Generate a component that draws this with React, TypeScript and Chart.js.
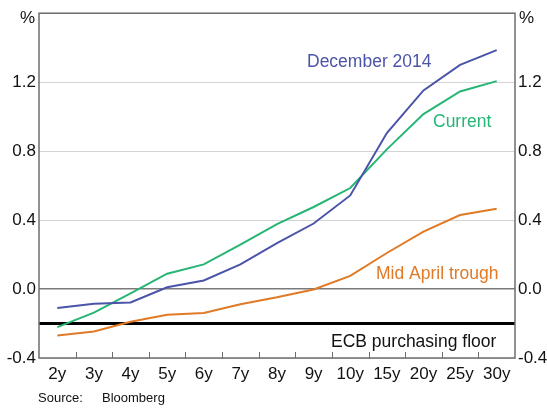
import React, { useEffect, useRef } from "react";
import { Chart, registerables } from "chart.js";

Chart.register(...registerables);

const categories = ["2y", "3y", "4y", "5y", "6y", "7y", "8y", "9y", "10y", "15y", "20y", "25y", "30y"];
const december2014 = [-0.11, -0.086, -0.078, 0.01, 0.05, 0.143, 0.266, 0.38, 0.543, 0.905, 1.152, 1.3, 1.386];
const current = [-0.221, -0.137, -0.025, 0.089, 0.143, 0.257, 0.377, 0.476, 0.586, 0.81, 1.015, 1.146, 1.206];
const midAprilTrough = [-0.269, -0.246, -0.19, -0.149, -0.139, -0.088, -0.048, -0.003, 0.076, 0.209, 0.333, 0.429, 0.466];
const ecbFloor = -0.2;
const yMin = -0.4;
const yMax = 1.6;
const yStep = 0.4;

const BLUE = "#4b54a8";
const GREEN = "#26b574";
const ORANGE = "#e07a26";
const FONT = "'Liberation Sans', Arial, sans-serif";

const fmt = (v: number) => (v > yMax - 0.01 ? "" : Math.abs(v) < 1e-9 ? "0.0" : v.toFixed(1));

const decorPlugin = {
  id: "decor",
  beforeDatasetsDraw(chart: any) {
    const { ctx, chartArea, scales } = chart;
    const y = scales.y.getPixelForValue(ecbFloor);
    ctx.save();
    ctx.strokeStyle = "#000";
    ctx.lineWidth = 3;
    ctx.beginPath();
    ctx.moveTo(chartArea.left, y);
    ctx.lineTo(chartArea.right, y);
    ctx.stroke();
    ctx.restore();
  },
  afterDraw(chart: any) {
    const { ctx, chartArea, scales } = chart;
    const { left, right, top, bottom } = chartArea;
    ctx.save();
    // frame
    ctx.strokeStyle = "#6e6e6e";
    ctx.lineWidth = 1.5;
    ctx.strokeRect(left, top, right - left, bottom - top);
    // inside x ticks at category boundaries
    ctx.strokeStyle = "#6e6e6e";
    ctx.lineWidth = 1;
    const xs = scales.x;
    for (let i = 1; i < categories.length; i++) {
      const px = Math.round((xs.getPixelForValue(i - 1) + xs.getPixelForValue(i)) / 2) + 0.5;
      ctx.beginPath();
      ctx.moveTo(px, bottom);
      ctx.lineTo(px, bottom - 6);
      ctx.stroke();
    }
    // % units
    ctx.fillStyle = "#111";
    ctx.font = `17px ${FONT}`;
    ctx.textBaseline = "alphabetic";
    ctx.textAlign = "right";
    ctx.fillText("%", left - 4, 23);
    ctx.textAlign = "left";
    ctx.fillText("%", right + 4, 23);
    // series labels
    ctx.font = `17.5px ${FONT}`;
    ctx.fillStyle = BLUE;
    ctx.fillText("December 2014", 307, 67);
    ctx.fillStyle = GREEN;
    ctx.fillText("Current", 433, 127);
    ctx.fillStyle = ORANGE;
    ctx.fillText("Mid April trough", 376, 279);
    ctx.fillStyle = "#111";
    ctx.fillText("ECB purchasing floor", 331, 347);
    // source
    ctx.font = `13px ${FONT}`;
    ctx.fillStyle = "#111";
    ctx.fillText("Source:", 38, 402);
    ctx.fillText("Bloomberg", 102, 402);
    ctx.restore();
  },
};

export default function App() {
  const ref = useRef<HTMLCanvasElement | null>(null);
  useEffect(() => {
    if (!ref.current) return;
    const ds = (label: string, data: number[], color: string) => ({
      label,
      data,
      borderColor: color,
      backgroundColor: color,
      borderWidth: 2,
      pointRadius: 0,
      tension: 0,
      fill: false,
    });
    const chart = new Chart(ref.current, {
      type: "line",
      data: {
        labels: categories,
        datasets: [
          ds("December 2014", december2014, BLUE),
          ds("Current", current, GREEN),
          ds("Mid April trough", midAprilTrough, ORANGE),
        ],
      },
      options: {
        animation: false,
        responsive: false,
        devicePixelRatio: 1,
        layout: { padding: { top: 8, left: 0, right: 0, bottom: 0 } },
        plugins: { legend: { display: false }, tooltip: { enabled: false } },
        scales: {
          x: {
            type: "category",
            offset: true,
            grid: { display: false, offset: true },
            border: { display: false },
            ticks: { color: "#111", font: { size: 17, family: FONT }, padding: -2, maxRotation: 0, autoSkip: false },
            afterFit: (s: any) => { s.height = 50; },
          },
          y: {
            position: "left",
            min: yMin,
            max: yMax,
            border: { display: false },
            grid: {
              drawTicks: false,
              color: (c: any) => (Math.abs(c.tick.value) < 1e-9 ? "#7a7a7a" : "#d4d4d4"),
              lineWidth: (c: any) => (Math.abs(c.tick.value) < 1e-9 ? 1.5 : 1),
            },
            ticks: { stepSize: yStep, color: "#111", font: { size: 17, family: FONT }, padding: 3, callback: (v: any) => fmt(Number(v)) },
            afterFit: (s: any) => { s.width = 39; },
          },
          y1: {
            position: "right",
            min: yMin,
            max: yMax,
            border: { display: false },
            grid: { display: false, drawTicks: false },
            ticks: { stepSize: yStep, color: "#111", font: { size: 17, family: FONT }, padding: 3, callback: (v: any) => fmt(Number(v)) },
            afterFit: (s: any) => { s.width = 32; },
          },
        },
      },
      plugins: [decorPlugin],
    } as any);
    return () => chart.destroy();
  }, []);
  return (
    <div style={{ position: "absolute", left: 0, top: 0, width: 547, height: 408, background: "#fff" }}>
      <canvas ref={ref} width={547} height={408} style={{ display: "block" }} />
    </div>
  );
}
